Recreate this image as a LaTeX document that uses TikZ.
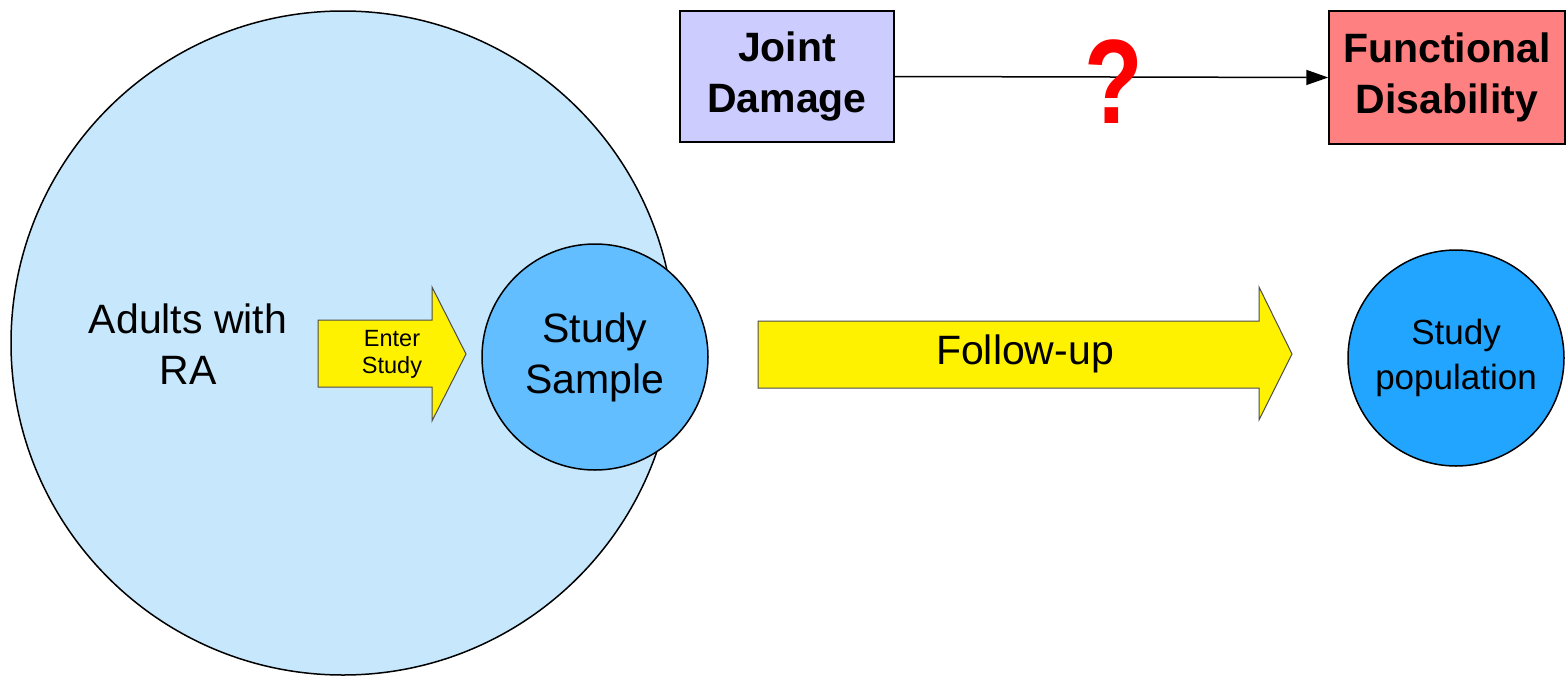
\documentclass[tikz,border=0pt]{standalone}
\usepackage{fontspec}
\setmainfont{Liberation Sans}
\usepackage{xcolor}
\usetikzlibrary{arrows.meta, positioning}
\definecolor{adultsblue}{HTML}{C6E7FC}
\definecolor{sampleblue}{HTML}{62BEFF}
\definecolor{popblue}{HTML}{22A5FF}
\definecolor{damage}{HTML}{CCCCFF}
\definecolor{disab}{HTML}{FF8080}

\begin{document}
\begin{tikzpicture}[x=1pt, y=-1pt, >={Triangle[length=22pt, width=15pt]},
  group/.style={circle, draw, line width=1.5pt, inner sep=0pt, align=center},
  factor/.style={draw, line width=1.5pt, inner sep=0pt, align=center,
                 font=\bfseries\fontsize{41}{51}\selectfont},
  bigtext/.style={font=\fontsize{41}{51}\selectfont, align=center},
  block/.style={draw=black!70, line width=1pt, fill=yellow}]
  \useasboundingbox (0,0) rectangle (1566,675);

  % population and sample
  \node[group, fill=adultsblue, minimum size=664pt] (adults) at (343,343) {};
  \node[bigtext] (adultslbl) at (188,344) {Adults with\\RA};

  \draw[block] (318,320) -- (432,320) -- (432,287) -- (466,354) -- (432,421)
    -- (432,387) -- (318,387) -- cycle;
  \node[align=center, font=\fontsize{23.5}{27}\selectfont] (enter) at (392,354) {Enter\\Study};

  \node[group, fill=sampleblue, minimum size=226pt, bigtext] (sample) at (595,357) {Study\\Sample};

  \draw[block] (758,321) -- (1259,321) -- (1259,287) -- (1292,354) -- (1259,420)
    -- (1259,388) -- (758,388) -- cycle;
  \node[bigtext] (follow) at (1025,354) {Follow-up};

  \node[group, fill=popblue, minimum size=216pt, font=\fontsize{35}{45}\selectfont]
    (pop) at (1456,358) {Study\\population};

  % hypothesis
  \node[factor, fill=damage, minimum width=214pt, minimum height=131pt] (joint) at (787,76.5) {Joint\\Damage};
  \node[factor, fill=disab, minimum width=236pt, minimum height=133pt] (func) at (1447,77.5) {Functional\\Disability};
  \draw[->, line width=1.5pt] (joint.east) -- (func.west);
  \node[text=red, inner sep=0pt, font=\bfseries\fontsize{120}{120}\selectfont] (qmark) at (1114,81.5) {\scalebox{0.8}[1]{?}};
\end{tikzpicture}
\end{document}
